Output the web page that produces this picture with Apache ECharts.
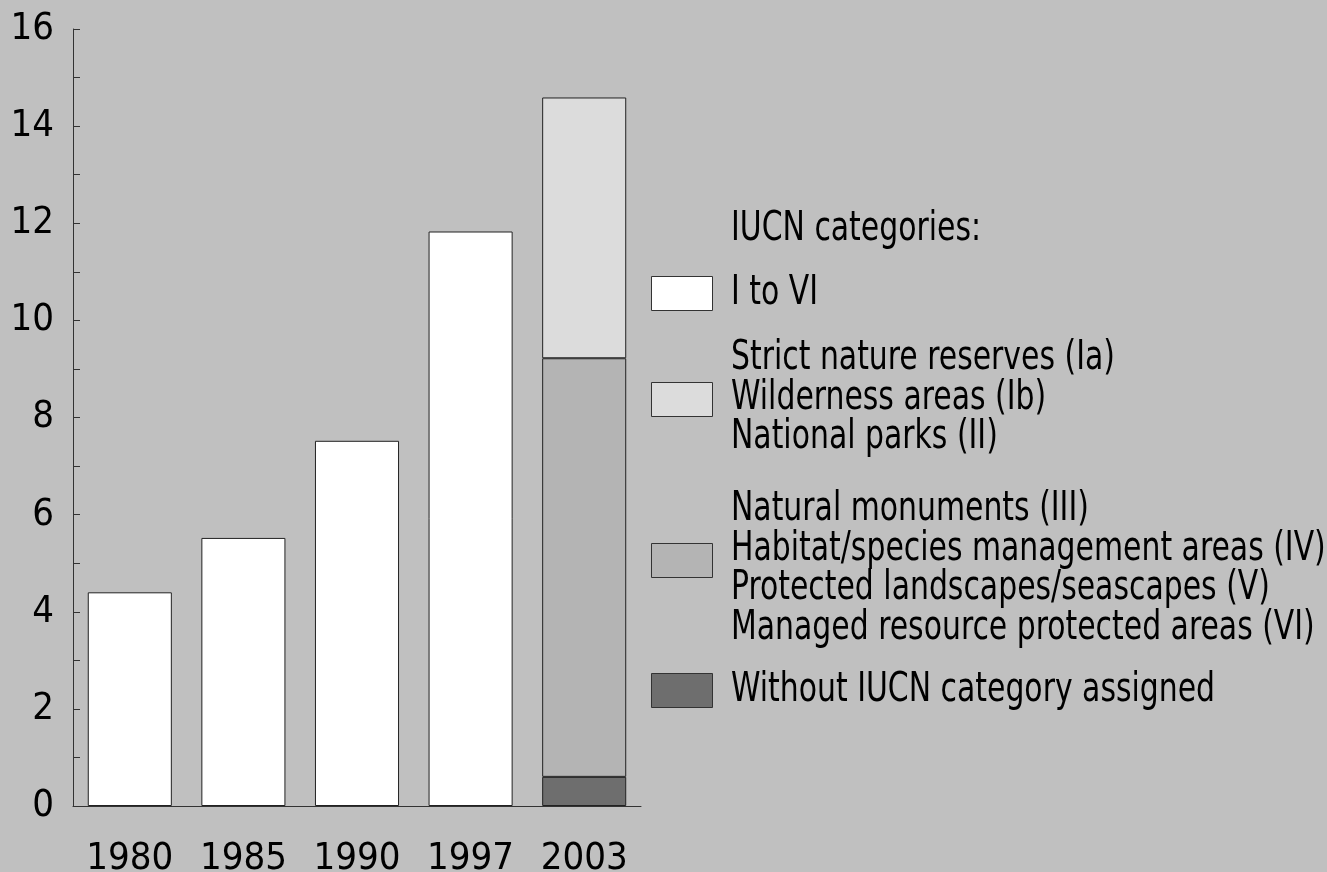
<!DOCTYPE html>
<html>
<head>
<meta charset="utf-8">
<script src="https://cdn.jsdelivr.net/npm/echarts@6/dist/echarts.min.js"></script>
<style>
html,body{margin:0;padding:0;background:#c0c0c0;}
#chart{width:1327px;height:872px;}
</style>
</head>
<body>
<div id="chart"></div>
<script>
var categories = ['1980', '1985', '1990', '1997', '2003'];
var allCategories = [4.4, 5.52, 7.52, 11.83, null];
var withoutCategory = [null, null, null, null, 0.6];
var categoriesIIItoVI = [null, null, null, null, 8.62];
var categoriesIatoII = [null, null, null, null, 5.37];
var yTicks = [0, 2, 4, 6, 8, 10, 12, 14, 16];

var legendTitle = 'IUCN categories:';
var legendItems = [
  {label: 'I to VI', color: '#ffffff'},
  {label: 'Strict nature reserves (Ia)\nWilderness areas (Ib)\nNational parks (II)', color: '#dcdcdc'},
  {label: 'Natural monuments (III)\nHabitat/species management areas (IV)\nProtected landscapes/seascapes (V)\nManaged resource protected areas (VI)', color: '#b4b4b4'},
  {label: 'Without IUCN category assigned', color: '#6e6e6e'}
];

var FONT = '"Liberation Sans Narrow", "Arial Narrow", "DejaVu Sans Condensed", sans-serif';
var chart = echarts.init(document.getElementById('chart'));

var boxY = [276, 382, 543, 673];
var textY = [293, 398, 569, 690];
var SX = 0.81;
var graphics = [{
  type: 'text', x: 731, y: 229, scaleX: SX,
  style: {x: 0, y: 0, text: legendTitle, font: '41px ' + FONT, fill: '#000', verticalAlign: 'middle'}
}];
legendItems.forEach(function (it, i) {
  graphics.push({
    type: 'rect', shape: {x: 651.5, y: boxY[i] + 0.5, width: 61, height: 34},
    style: {fill: it.color, stroke: '#333', lineWidth: 1}
  });
  graphics.push({
    type: 'text', x: 731, y: textY[i], scaleX: SX,
    style: {x: 0, y: 0, text: it.label, font: '41px ' + FONT, fill: '#000', verticalAlign: 'middle', lineHeight: 39.5}
  });
});

function barSeries(name, data, color) {
  return {
    name: name, type: 'bar', stack: 'total', data: data, barWidth: '74%',
    itemStyle: {color: color, borderColor: '#222', borderWidth: 1},
    emphasis: {disabled: true}, animation: false
  };
}

chart.setOption({
  backgroundColor: '#c0c0c0',
  animation: false,
  grid: {left: 73, right: 686, top: 29, bottom: 66, containLabel: false, outerBoundsMode: 'none'},
  xAxis: {
    type: 'category', data: categories,
    axisLine: {lineStyle: {color: '#333', width: 1}},
    axisTick: {show: false},
    axisLabel: {color: '#000', fontFamily: FONT, fontSize: 38, margin: 34, interval: 0}
  },
  yAxis: {
    type: 'value', min: 0, max: 16, interval: 1,
    splitLine: {show: false},
    axisLine: {show: true, lineStyle: {color: '#333', width: 1}},
    axisTick: {show: true, inside: true, length: 7, lineStyle: {color: '#333'}},
    axisLabel: {
      color: '#000', fontFamily: FONT, fontSize: 38, margin: 19,
      formatter: function (v) { return yTicks.indexOf(v) >= 0 ? String(v) : ''; }
    }
  },
  series: [
    barSeries('I to VI', allCategories, '#ffffff'),
    barSeries('Without IUCN category assigned', withoutCategory, '#6e6e6e'),
    barSeries('III to VI', categoriesIIItoVI, '#b4b4b4'),
    barSeries('Ia to II', categoriesIatoII, '#dcdcdc')
  ],
  graphic: graphics
});
</script>
</body>
</html>
